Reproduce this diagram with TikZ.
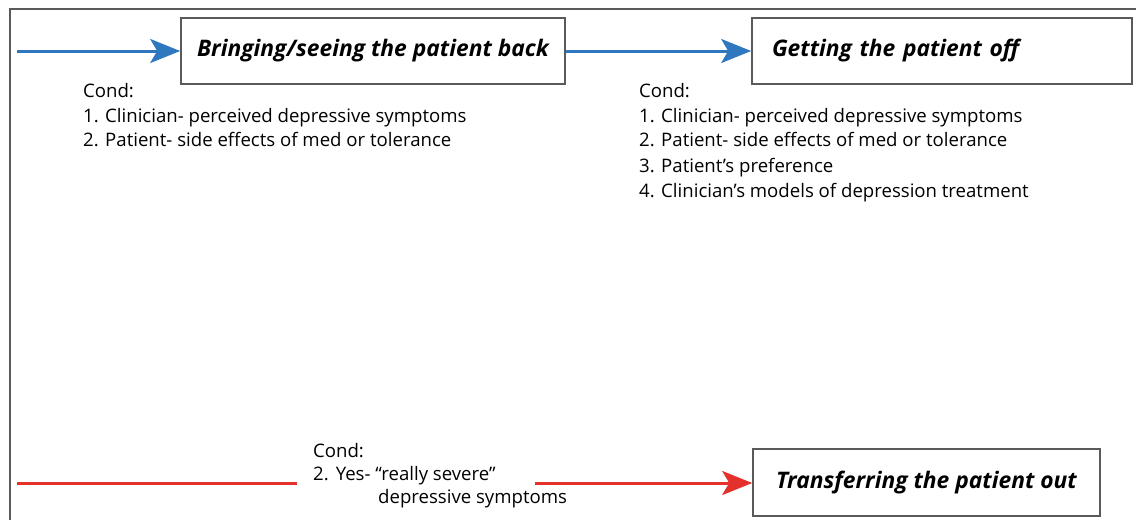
\documentclass[tikz,border=0pt]{standalone}
\usepackage{fontspec}
\setmainfont{Open Sans}
\usetikzlibrary{arrows.meta}
\definecolor{flowblue}{HTML}{2F77BE}
\definecolor{flowred}{HTML}{E4312B}
\definecolor{framegray}{HTML}{5A5A5A}
\tikzset{
  stagebox/.style={draw=framegray, line width=1.6pt, minimum height=66pt,
    inner xsep=14pt, font=\fontsize{22.8}{26}\selectfont\bfseries\itshape},
  condtext/.style={anchor=base west, inner sep=0pt, font=\fontsize{18.6}{24}\selectfont},
  bluearrow/.style={draw=flowblue, line width=3pt,
    -{Stealth[length=30pt, width=24pt, inset=7pt]}},
  redarrow/.style={draw=flowred, line width=3pt,
    -{Stealth[length=30pt, width=24pt, inset=7pt]}},
  redline/.style={draw=flowred, line width=3pt},
}
\begin{document}
\begin{tikzpicture}[x=1pt, y=-1pt]
\useasboundingbox (0,0) rectangle (1136,520);
% outer frame (open to the right and bottom)
\draw[framegray, line width=2pt] (10,520) -- (10,9) -- (1136,9);

% stage boxes
\node[stagebox, minimum width=384pt] (back) at (373,51) {Bringing/seeing the patient back};
\node[stagebox, inner xsep=20pt, text width=340pt, align=left] (off) at (942,51) {Getting the patient off};
\node[stagebox, minimum width=347pt, minimum height=67pt] (out) at (926.5,482.5) {Transferring the patient out};

% connectors
\coordinate (inBlue) at (17,51);
\coordinate (redStart) at (17,483);
\coordinate (redEnd) at (297,483);
\coordinate (redResume) at (535,483);
\draw[bluearrow] (inBlue) -- (back.west);
\draw[bluearrow] (back.east) -- (off.west);
\draw[redline] (redStart) -- (redEnd);
\draw[redarrow] (redResume) -- (out.west |- redResume);

% conditions under the first box
\node[condtext] (c1h) at (83,97) {Cond:};
\node[condtext] (c1a) at (83,122) {1. Clinician- perceived depressive symptoms};
\node[condtext] (c1b) at (83,146) {2. Patient- side effects of med or tolerance};

% conditions under the second box
\node[condtext] (c2h) at (639,97) {Cond:};
\node[condtext] (c2a) at (639,122) {1. Clinician- perceived depressive symptoms};
\node[condtext] (c2b) at (639,146) {2. Patient- side effects of med or tolerance};
\node[condtext] (c2c) at (639,172) {3. Patient’s preference};
\node[condtext] (c2d) at (639,197) {4. Clinician’s models of depression treatment};

% condition on the transfer path
\node[condtext] (c3h) at (313,457) {Cond:};
\node[condtext] (c3a) at (313,480) {2.\hspace{7pt}Yes- “really severe”};
\node[condtext] (c3b) at (378,503) {depressive symptoms};
\end{tikzpicture}
\end{document}
